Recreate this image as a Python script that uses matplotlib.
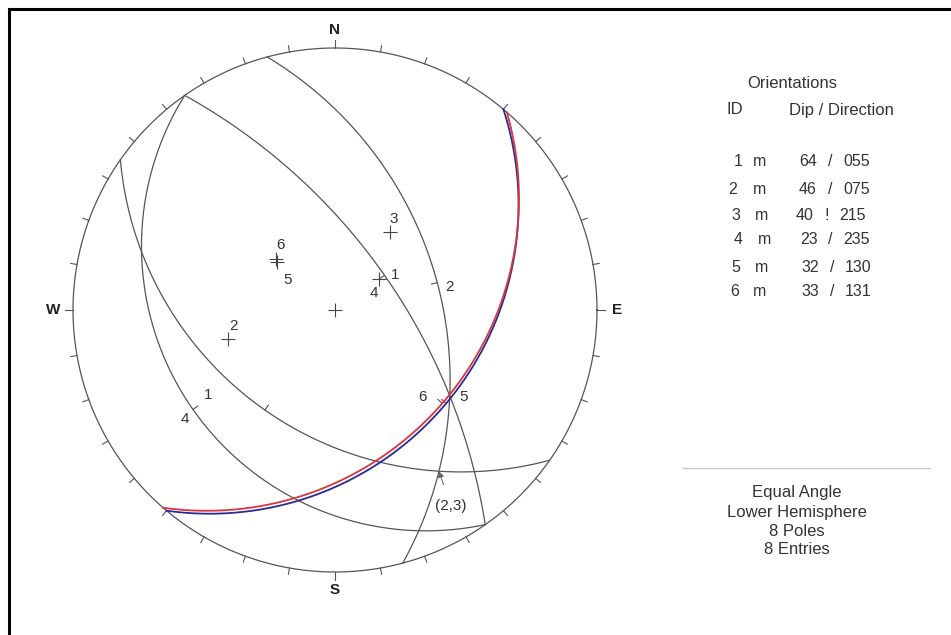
import numpy as np
import matplotlib
matplotlib.use("Agg")
import matplotlib.pyplot as plt
from matplotlib.lines import Line2D

# ---------------- data ----------------
ids = [1, 2, 3, 4, 5, 6]
flags = ["m", "m", "m", "m", "m", "m"]
dips = [64, 46, 40, 23, 32, 33]
dip_dirs = [55, 75, 215, 235, 130, 131]
separators = ["/", "/", "!", "/", "/", "/"]
plotted_poles = [2, 3, 4, 5, 6]
highlight_planes = {6: "#d8363a", 5: "#2a2a96"}
intersection_pair = (2, 3)
cardinals = ["N", "E", "S", "W"]
cardinal_az = [0, 90, 180, 270]
title_text = "Orientations"
header_id = "ID"
header_vals = "Dip / Direction"
info_lines = ["Equal Angle", "Lower Hemisphere", "8 Poles", "8 Entries"]

# ---------------- layout ----------------
W, H = 951, 635
R = 262.0          # primitive radius in pixels
CX, CY = 335, 310  # centre in pixels (y from top)
HALF = 1.2
LINE_C = "#555555"
TEXT_C = "#333333"
FONT = ["Liberation Sans", "DejaVu Sans"]
plt.rcParams["font.family"] = FONT

fig = plt.figure(figsize=(W / 100, H / 100), dpi=100)
fig.patch.set_facecolor("white")
ax = fig.add_axes([(CX - HALF * R) / W, (H - CY - HALF * R) / H,
                   2 * HALF * R / W, 2 * HALF * R / H])
ax.set_xlim(-HALF, HALF)
ax.set_ylim(-HALF, HALF)
ax.axis("off")


def proj(trend, plunge):
    t = np.radians(trend)
    r = np.tan(np.radians(90 - np.asarray(plunge)) / 2)
    return r * np.sin(t), r * np.cos(t)


def great_circle(dd, dip, n=400):
    s = np.radians(dd - 90)
    d = np.radians(dip)
    D = np.radians(dd)
    a = np.radians(np.linspace(0, 180, n))
    sv = np.array([np.sin(s), np.cos(s), 0.0])
    dv = np.array([np.cos(d) * np.sin(D), np.cos(d) * np.cos(D), -np.sin(d)])
    v = np.outer(np.cos(a), sv) + np.outer(np.sin(a), dv)
    trend = np.degrees(np.arctan2(v[:, 0], v[:, 1]))
    plunge = np.degrees(np.arcsin(np.clip(-v[:, 2], -1, 1)))
    return proj(trend, plunge)


def pole_vec(dd, dip):
    t = np.radians(dd + 180)
    p = np.radians(90 - dip)
    return np.array([np.cos(p) * np.sin(t), np.cos(p) * np.cos(t), -np.sin(p)])


# primitive circle
th = np.linspace(0, 2 * np.pi, 720)
ax.plot(np.cos(th), np.sin(th), color=LINE_C, lw=0.9)

# rim ticks every 10 degrees
for az in range(0, 360, 10):
    t = np.radians(az)
    L = 1.032 if az % 90 == 0 else 1.024
    ax.plot([np.sin(t), L * np.sin(t)], [np.cos(t), L * np.cos(t)],
            color=LINE_C, lw=0.8)

for lab, az in zip(cardinals, cardinal_az):
    t = np.radians(az)
    rr = 1.07 if az % 180 == 0 else 1.075
    ax.text(rr * np.sin(t), rr * np.cos(t), lab, ha="center", va="center",
            fontsize=11, fontweight="bold", color="#222222")

# great circles
for pid, dd, dp in zip(ids, dip_dirs, dips):
    x, y = great_circle(dd, dp)
    if pid in highlight_planes:
        ax.plot(x, y, color=highlight_planes[pid], lw=1.3, zorder=4)
    else:
        ax.plot(x, y, color=LINE_C, lw=0.9, zorder=3)
    # small tick at dip-direction point, pointing towards centre
    px, py = proj(dd, 0 + 90 - 90 + 0)  # placeholder overwritten below
    mx, my = proj(dd, 90 - (90 - dp))
    # dip-direction line of plane: trend dd, plunge dp
    mx, my = proj(dd, dp)
    rr = np.hypot(mx, my)
    ux, uy = -mx / rr, -my / rr
    tl = 6 / R
    ax.plot([mx, mx + tl * ux], [my, my + tl * uy], color=LINE_C, lw=0.8, zorder=3)

# great circle labels (text, plane id, pixel offset)
gc_labels = [("1", 1, (11, 0)), ("2", 2, (12, -4)), ("4", 4, (-8, -10)),
             ("1", 4, (15, 14)), ("5", 5, (17, 6)), ("6", 6, (-20, 6))]
for txt, pid, off in gc_labels:
    i = ids.index(pid)
    mx, my = proj(dip_dirs[i], dips[i])
    ax.annotate(txt, (mx, my), xytext=off, textcoords="offset pixels",
                ha="center", va="center", fontsize=11, color=TEXT_C)

# poles
pole_offsets = {2: (6, 13), 3: (4, 13), 4: (-5, -14), 5: (10, -18), 6: (4, 14)}
for pid in plotted_poles:
    i = ids.index(pid)
    px, py = proj(dip_dirs[i] + 180, 90 - dips[i])
    ax.plot(px, py, marker="+", ms=10, mew=0.8, color="#444444", zorder=5)
    ax.annotate(str(pid), (px, py), xytext=pole_offsets[pid],
                textcoords="offset pixels", ha="center", va="center",
                fontsize=11, color=TEXT_C)

# centre cross
ax.plot(0, 0, marker="+", ms=10, mew=0.8, color="#444444")

# intersection of two planes
a, b = intersection_pair
ia, ib = ids.index(a), ids.index(b)
v = np.cross(pole_vec(dip_dirs[ia], dips[ia]), pole_vec(dip_dirs[ib], dips[ib]))
if v[2] > 0:
    v = -v
v = v / np.linalg.norm(v)
itr = np.degrees(np.arctan2(v[0], v[1]))
ipl = np.degrees(np.arcsin(-v[2]))
ix, iy = proj(itr, ipl)
ax.annotate("(%d,%d)" % intersection_pair, (ix, iy), xytext=(12, -35),
            textcoords="offset pixels", ha="center", va="center",
            fontsize=11, color=TEXT_C,
            arrowprops=dict(arrowstyle="-|>", color="#666666", lw=0.7,
                            mutation_scale=9, shrinkA=9, shrinkB=0))


# ---------------- right panel ----------------
def fx(x):
    return x / W


def fy(y):
    return 1 - y / H


fig.text(fx(792), fy(83), title_text, ha="center", va="center",
         fontsize=12, color=TEXT_C)
fig.text(fx(735), fy(110), header_id, ha="center", va="center",
         fontsize=12, color=TEXT_C)
fig.text(fx(841), fy(110), header_vals, ha="center", va="center",
         fontsize=12, color=TEXT_C)

row_y = [161, 190, 216, 240, 267, 292]
id_x = [738, 733, 736, 738, 736, 735]
m_x = [760, 760, 762, 765, 762, 760]
dip_x = [808, 808, 805, 809, 810, 810]
sep_x = [830, 830, 827, 830, 832, 832]
dir_x = [857, 857, 853, 857, 858, 858]
for k in range(len(ids)):
    yy = fy(row_y[k])
    kw = dict(ha="center", va="center", fontsize=11.5, color=TEXT_C)
    fig.text(fx(id_x[k]), yy, str(ids[k]), **kw)
    fig.text(fx(m_x[k]), yy, flags[k], **kw)
    fig.text(fx(dip_x[k]), yy, "%d" % dips[k], **kw)
    fig.text(fx(sep_x[k]), yy, separators[k], **kw)
    fig.text(fx(dir_x[k]), yy, "%03d" % dip_dirs[k], **kw)

fig.add_artist(Line2D([fx(683), fx(930)], [fy(468), fy(468)],
                      color="#c8c8c8", lw=1.0))
for k, line in enumerate(info_lines):
    fig.text(fx(797), fy(493 + 19 * k), line, ha="center", va="center",
             fontsize=12, color=TEXT_C)

# outer frame (top and left edges visible)
fig.add_artist(Line2D([fx(9), fx(951)], [fy(9), fy(9)], color="black", lw=2.2))
fig.add_artist(Line2D([fx(9), fx(9)], [fy(9), fy(635)], color="black", lw=2.2))

fig.savefig("out.png", dpi=100)
